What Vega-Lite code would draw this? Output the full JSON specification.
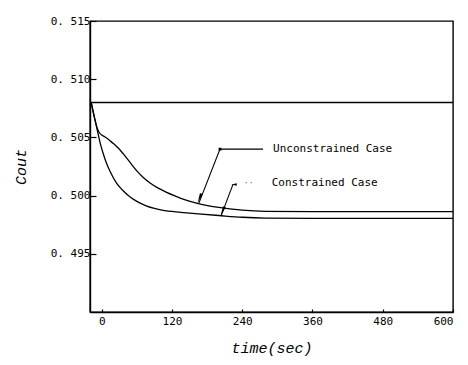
{
  "$schema": "https://vega.github.io/schema/vega-lite/v6.json",
  "autosize": {"type": "none"},
  "padding": {"left": 90, "top": 21, "right": 15, "bottom": 53},
  "width": 363,
  "height": 291,
  "background": "white",
  "config": {
    "view": {"stroke": "black", "strokeWidth": 1.4},
    "font": "DejaVu Sans Mono",
    "axis": {
      "domainColor": "black",
      "domainWidth": 1.4,
      "tickColor": "black",
      "tickWidth": 1.2,
      "grid": false,
      "labelFont": "DejaVu Sans Mono",
      "labelFontSize": 11,
      "labelColor": "black",
      "titleFont": "Liberation Mono",
      "titleFontStyle": "italic",
      "titleFontWeight": "normal",
      "titleFontSize": 15,
      "titleColor": "black"
    }
  },
  "datasets": {
    "curves": [
      {"t": -18, "v": 0.5080, "case": "Constrained"},
      {"t": -15, "v": 0.5073, "case": "Constrained"},
      {"t": -11, "v": 0.5064, "case": "Constrained"},
      {"t": -7, "v": 0.5055, "case": "Constrained"},
      {"t": -3, "v": 0.5046, "case": "Constrained"},
      {"t": 2, "v": 0.5037, "case": "Constrained"},
      {"t": 8, "v": 0.5028, "case": "Constrained"},
      {"t": 15, "v": 0.5020, "case": "Constrained"},
      {"t": 25, "v": 0.5011, "case": "Constrained"},
      {"t": 35, "v": 0.5005, "case": "Constrained"},
      {"t": 48, "v": 0.49990, "case": "Constrained"},
      {"t": 60, "v": 0.49950, "case": "Constrained"},
      {"t": 77, "v": 0.49910, "case": "Constrained"},
      {"t": 90, "v": 0.49890, "case": "Constrained"},
      {"t": 105, "v": 0.49874, "case": "Constrained"},
      {"t": 120, "v": 0.49864, "case": "Constrained"},
      {"t": 140, "v": 0.49854, "case": "Constrained"},
      {"t": 165, "v": 0.49843, "case": "Constrained"},
      {"t": 200, "v": 0.49829, "case": "Constrained"},
      {"t": 240, "v": 0.49814, "case": "Constrained"},
      {"t": 280, "v": 0.49807, "case": "Constrained"},
      {"t": 360, "v": 0.49805, "case": "Constrained"},
      {"t": 480, "v": 0.49805, "case": "Constrained"},
      {"t": 600, "v": 0.49805, "case": "Constrained"},
      {"t": -18, "v": 0.5080, "case": "Unconstrained"},
      {"t": -15, "v": 0.5073, "case": "Unconstrained"},
      {"t": -11, "v": 0.5064, "case": "Unconstrained"},
      {"t": -7, "v": 0.5057, "case": "Unconstrained"},
      {"t": -4, "v": 0.5054, "case": "Unconstrained"},
      {"t": 0, "v": 0.5052, "case": "Unconstrained"},
      {"t": 5, "v": 0.50505, "case": "Unconstrained"},
      {"t": 10, "v": 0.50488, "case": "Unconstrained"},
      {"t": 15, "v": 0.50468, "case": "Unconstrained"},
      {"t": 20, "v": 0.50447, "case": "Unconstrained"},
      {"t": 25, "v": 0.50424, "case": "Unconstrained"},
      {"t": 31, "v": 0.50394, "case": "Unconstrained"},
      {"t": 37, "v": 0.50358, "case": "Unconstrained"},
      {"t": 43, "v": 0.50320, "case": "Unconstrained"},
      {"t": 50, "v": 0.50274, "case": "Unconstrained"},
      {"t": 60, "v": 0.50212, "case": "Unconstrained"},
      {"t": 71, "v": 0.50155, "case": "Unconstrained"},
      {"t": 82, "v": 0.50110, "case": "Unconstrained"},
      {"t": 95, "v": 0.50068, "case": "Unconstrained"},
      {"t": 110, "v": 0.50030, "case": "Unconstrained"},
      {"t": 125, "v": 0.49997, "case": "Unconstrained"},
      {"t": 140, "v": 0.49968, "case": "Unconstrained"},
      {"t": 165, "v": 0.49932, "case": "Unconstrained"},
      {"t": 200, "v": 0.49898, "case": "Unconstrained"},
      {"t": 240, "v": 0.49875, "case": "Unconstrained"},
      {"t": 280, "v": 0.49865, "case": "Unconstrained"},
      {"t": 360, "v": 0.49862, "case": "Unconstrained"},
      {"t": 480, "v": 0.49862, "case": "Unconstrained"},
      {"t": 600, "v": 0.49862, "case": "Unconstrained"}
    ],
    "leaders": [
      {"t": 166, "v": 0.49935, "leader": "Unconstrained", "step": 1},
      {"t": 202, "v": 0.50399, "leader": "Unconstrained", "step": 2},
      {"t": 275.5, "v": 0.50399, "leader": "Unconstrained", "step": 3},
      {"t": 203.7, "v": 0.49824, "leader": "Constrained", "step": 1},
      {"t": 224.2, "v": 0.50096, "leader": "Constrained", "step": 2}
    ],
    "arrowheads": [
      {"t": 167, "v": 0.49977},
      {"t": 206.3, "v": 0.49864}
    ],
    "flags": [
      {"t": 226, "v": 0.50096}
    ],
    "corners": [
      {"t": 202, "v": 0.50399}
    ],
    "labels": [
      {"t": 292.6, "v": 0.50399, "text": "Unconstrained Case"},
      {"t": 290.3, "v": 0.50105, "text": "Constrained Case"}
    ],
    "specks": [
      {"t": 251, "v": 0.50100, "text": "··"}
    ]
  },
  "layer": [
    {
      "data": {"values": [{"level": 0.508}]},
      "mark": {"type": "rule", "color": "black", "strokeWidth": 1.5},
      "encoding": {"y": {"field": "level", "type": "quantitative"}}
    },
    {
      "data": {"name": "curves"},
      "mark": {"type": "line", "color": "black", "strokeWidth": 1.3, "interpolate": "monotone"},
      "encoding": {
        "x": {
          "field": "t", "type": "quantitative",
          "scale": {"domain": [-20, 600], "nice": false, "zero": false},
          "axis": {
            "title": "time(sec)",
            "values": [0, 120, 240, 360, 480, 600],
            "tickSize": -3,
            "labelPadding": 6,
            "titlePadding": 14
          }
        },
        "y": {
          "field": "v", "type": "quantitative",
          "scale": {"domain": [0.49, 0.515], "nice": false, "zero": false},
          "axis": {
            "title": "Cout",
            "values": [0.495, 0.5, 0.505, 0.51, 0.515],
            "labelExpr": "replace(format(datum.value, '.3f'), '.', '. ')",
            "tickSize": -6,
            "labelPadding": 6,
            "titlePadding": 22
          }
        },
        "detail": {"field": "case"}
      }
    },
    {
      "data": {"name": "leaders"},
      "mark": {"type": "line", "color": "black", "strokeWidth": 1.1},
      "encoding": {
        "x": {"field": "t", "type": "quantitative"},
        "y": {"field": "v", "type": "quantitative"},
        "detail": {"field": "leader"},
        "order": {"field": "step"}
      }
    },
    {
      "data": {"name": "arrowheads"},
      "mark": {"type": "point", "shape": "M0,1L-0.3,-1L0.3,-1Z", "filled": true, "color": "black", "opacity": 1, "size": 100, "angle": 22},
      "encoding": {
        "x": {"field": "t", "type": "quantitative"},
        "y": {"field": "v", "type": "quantitative"}
      }
    },
    {
      "data": {"name": "flags"},
      "mark": {"type": "point", "shape": "M-1,0L1,-0.45L1,0.45Z", "filled": true, "color": "black", "opacity": 1, "size": 30},
      "encoding": {
        "x": {"field": "t", "type": "quantitative"},
        "y": {"field": "v", "type": "quantitative"}
      }
    },
    {
      "data": {"name": "corners"},
      "mark": {"type": "point", "shape": "square", "filled": true, "color": "black", "opacity": 1, "size": 8},
      "encoding": {
        "x": {"field": "t", "type": "quantitative"},
        "y": {"field": "v", "type": "quantitative"}
      }
    },
    {
      "data": {"name": "labels"},
      "mark": {"type": "text", "align": "left", "baseline": "middle", "font": "DejaVu Sans Mono", "fontSize": 11, "color": "black"},
      "encoding": {
        "x": {"field": "t", "type": "quantitative"},
        "y": {"field": "v", "type": "quantitative"},
        "text": {"field": "text"}
      }
    },
    {
      "data": {"name": "specks"},
      "mark": {"type": "text", "align": "center", "baseline": "middle", "fontSize": 8, "color": "#666666"},
      "encoding": {
        "x": {"field": "t", "type": "quantitative"},
        "y": {"field": "v", "type": "quantitative"},
        "text": {"field": "text"}
      }
    }
  ]
}
